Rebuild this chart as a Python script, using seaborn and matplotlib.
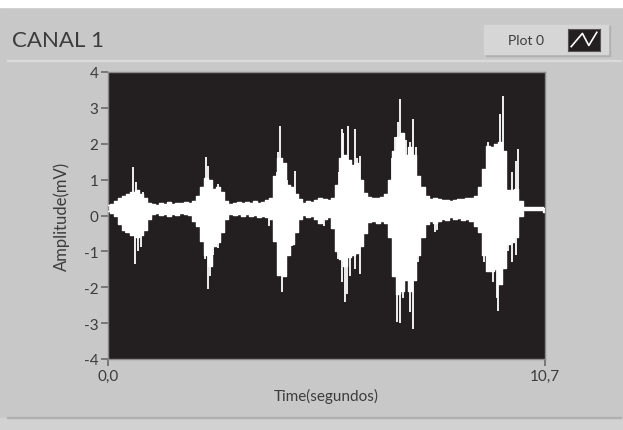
#Todo: Sinal do CANAL 1 (estilo painel LabVIEW)

import numpy as np
import pandas as pd
import matplotlib
matplotlib.use('Agg')
import matplotlib.pyplot as plt
from matplotlib.patches import Rectangle
import seaborn as sns

tempo = np.round(np.arange(0, 108) * 0.1, 1)
sup = [0.30, 0.32, 0.40, 0.50, 0.55, 0.60, 0.65, 0.70, 0.60, 0.48,
       0.35, 0.32, 0.30, 0.34, 0.33, 0.38, 0.32, 0.36, 0.34, 0.37,
       0.36, 0.40, 0.55, 0.80, 1.05, 1.00, 0.75, 0.80, 0.65, 0.40,
       0.33, 0.36, 0.38, 0.34, 0.37, 0.35, 0.40, 0.36, 0.38, 0.42,
       0.50, 1.10, 1.60, 1.45, 0.85, 0.80, 0.60, 0.45, 0.36, 0.40,
       0.38, 0.42, 0.50, 0.45, 0.42, 0.50, 0.85, 1.60, 1.70, 1.55,
       1.40, 1.45, 1.00, 0.62, 0.52, 0.50, 0.48, 0.52, 0.60, 1.00,
       1.80, 2.20, 2.30, 1.70, 1.90, 1.70, 1.10, 0.80, 0.55, 0.45,
       0.48, 0.45, 0.42, 0.44, 0.40, 0.42, 0.46, 0.45, 0.48, 0.50,
       0.55, 0.80, 1.30, 1.95, 1.90, 2.00, 2.05, 1.80, 0.70, 0.70,
       0.75, 0.40, 0.25, 0.25, 0.25, 0.25, 0.24, 0.22]
inf = [0.12, 0.08, 0.00, -0.25, -0.40, -0.45, -0.55, -0.60, -0.55, -0.40,
       -0.10, 0.05, 0.06, 0.02, 0.05, 0.00, 0.04, 0.02, 0.06, 0.03,
       0.02, -0.15, -0.30, -0.70, -1.10, -1.40, -0.85, -0.75, -0.45, -0.10,
       0.05, 0.02, 0.04, -0.02, 0.03, 0.00, 0.02, -0.05, 0.00, -0.05,
       -0.10, -0.70, -1.65, -1.70, -1.10, -0.80, -0.45, -0.10, 0.02, -0.05,
       0.00, -0.10, -0.20, -0.10, -0.05, -0.35, -1.00, -1.20, -1.40, -1.15,
       -1.10, -1.05, -0.85, -0.50, -0.18, -0.15, -0.20, -0.15, -0.20, -0.60,
       -1.70, -2.20, -2.10, -1.80, -2.10, -1.80, -1.10, -0.60, -0.25, -0.15,
       -0.20, -0.15, -0.10, -0.12, -0.05, -0.10, -0.08, -0.12, -0.10, -0.15,
       -0.30, -0.45, -1.10, -1.55, -1.55, -1.50, -1.90, -1.45, -0.80, -0.75,
       -0.60, 0.00, 0.15, 0.15, 0.15, 0.15, 0.15, 0.10]

# Picos isolados (tempo, amplitude)
pico_t = [0.61, 0.69, 0.86, 0.65, 0.73, 0.82, 0.50, 0.36, 0.45,
          2.41, 2.45, 2.69, 2.45, 2.50, 2.69, 2.37, 2.30, 2.58,
          4.21, 4.17, 4.58, 4.27, 4.50, 4.33, 4.13, 4.38,
          5.72, 5.76, 5.88, 6.05, 6.17, 5.72, 5.80, 5.84, 5.92, 6.05, 6.17,
          5.64, 6.10, 5.66,
          7.15, 7.11, 7.39, 7.46, 6.95, 7.07, 7.15, 7.39, 7.46, 7.23,
          7.03, 7.30, 7.55, 7.60,
          9.60, 9.68, 9.88, 9.99, 10.05, 9.43, 9.56, 9.52, 9.88, 9.99, 9.20,
          9.31, 9.36, 9.80,
          5.30, 8.00, 8.05, 3.95]
pico_v = [1.35, 0.93, 0.65, -1.35, -1.00, -0.88, -0.50, -0.35, -0.50,
          1.62, 1.39, 0.88, -2.05, -1.70, -0.90, -1.20, 0.75, -1.10,
          2.50, 1.77, 1.25, -2.14, -0.84, -1.30, 1.20, 1.00,
          2.41, 2.30, 2.50, 2.41, 1.67, -1.85, -2.41, -2.20, -1.70, -1.49, -1.63,
          -1.20, 1.60, 1.20,
          3.25, 2.60, 2.05, 2.69, 1.60, -2.97, -3.00, -2.70, -3.16, -2.30,
          2.20, 2.10, 1.90, -1.30,
          2.83, 3.34, 1.20, 1.53, 1.85, -1.86, -2.65, -2.30, -1.30, -1.10, -1.30,
          2.05, 1.95, -1.00,
          -0.30, -0.45, -0.40, -0.30]

y_ticks = [-4, -3, -2, -1, 0, 1, 2, 3, 4]
x_ticks = [0.0, 10.7]
x_labels = ['0,0', '10,7']

df = pd.DataFrame({'t': tempo, 'sup': sup, 'inf': inf})

cor_fundo = '#c8c8c8'
cor_texto = '#3c3c3c'

fig = plt.figure(figsize=(6.23, 4.31), dpi=100)
fig.patch.set_facecolor(cor_fundo)
plt.rcParams['font.family'] = ['Lato', 'DejaVu Sans']

# faixas do painel
fig.patches.append(Rectangle((0, 1 - 8 / 431), 1, 8 / 431, transform=fig.transFigure,
                             color='white', zorder=0))
fig.patches.append(Rectangle((0, 0), 1, 12 / 431, transform=fig.transFigure,
                             color='#d2d2d2', zorder=0))
fig.patches.append(Rectangle((0.012, 1 - 62 / 431), 0.985, 1.5 / 431,
                             transform=fig.transFigure, color='#dadada', zorder=0))
fig.patches.append(Rectangle((0.012, 12 / 431), 0.985, 1.5 / 431,
                             transform=fig.transFigure, color='#b0b0b0', zorder=0))

ax = fig.add_axes([108 / 623, 1 - 360 / 431, 437 / 623, 287 / 431])
ax.set_facecolor('#231f20')

# picos primeiro, a envoltoria (em degraus) por cima
ax.vlines(pico_t, 0.2, pico_v, color='white', linewidth=1.3, zorder=1)
ax.fill_between(df['t'], df['inf'], df['sup'], step='mid', color='white', linewidth=0,
                antialiased=False, zorder=2)
sns.lineplot(data=df, x='t', y='sup', ax=ax, color='white', linewidth=1.0,
             drawstyle='steps-mid', zorder=3)
sns.lineplot(data=df, x='t', y='inf', ax=ax, color='white', linewidth=1.0,
             drawstyle='steps-mid', zorder=3)

ax.set_xlim(0, 10.7)
ax.set_ylim(-4, 4)
ax.set_yticks(y_ticks)
ax.set_yticklabels([str(v) for v in y_ticks])
ax.set_xticks(x_ticks)
ax.set_xticklabels(x_labels)
ax.tick_params(axis='both', colors='#6a6a6a', labelcolor=cor_texto, labelsize=11,
               length=5, width=1.2, pad=2)
for s in ax.spines.values():
    s.set_color('#8a8a8a')
    s.set_linewidth(1)
ax.set_xlabel('Time(segundos)', fontsize=11, color=cor_texto, labelpad=4)
ax.set_ylabel('Amplitude(mV)', fontsize=12, color=cor_texto, labelpad=10)

fig.text(12 / 623, 1 - 41 / 431, 'CANAL 1', fontsize=16, color=cor_texto,
         va='center', ha='left')

# legenda estilo LabVIEW
fig.patches.append(Rectangle((486 / 623, 1 - 57 / 431), 124 / 623, 30 / 431,
                             transform=fig.transFigure, color='#b0b0b0', zorder=1))
fig.patches.append(Rectangle((484 / 623, 1 - 55 / 431), 124 / 623, 29 / 431,
                             transform=fig.transFigure, color='#d6d6d6', zorder=2))
fig.text(526 / 623, 1 - 41 / 431, 'Plot 0', fontsize=10, color=cor_texto,
         va='center', ha='center', zorder=3)
icon = fig.add_axes([568 / 623, 1 - 52 / 431, 32 / 623, 22 / 431])
icon.set_zorder(5)
icon.set_facecolor('#231f20')
icon.plot([0.1, 0.45, 0.65, 0.9], [0.2, 0.8, 0.25, 0.85], color='white', linewidth=1.2)
icon.set_xlim(0, 1)
icon.set_ylim(0, 1)
icon.set_xticks([])
icon.set_yticks([])
for s in icon.spines.values():
    s.set_color('#555555')

fig.savefig('out.png', dpi=100, facecolor=fig.get_facecolor())
